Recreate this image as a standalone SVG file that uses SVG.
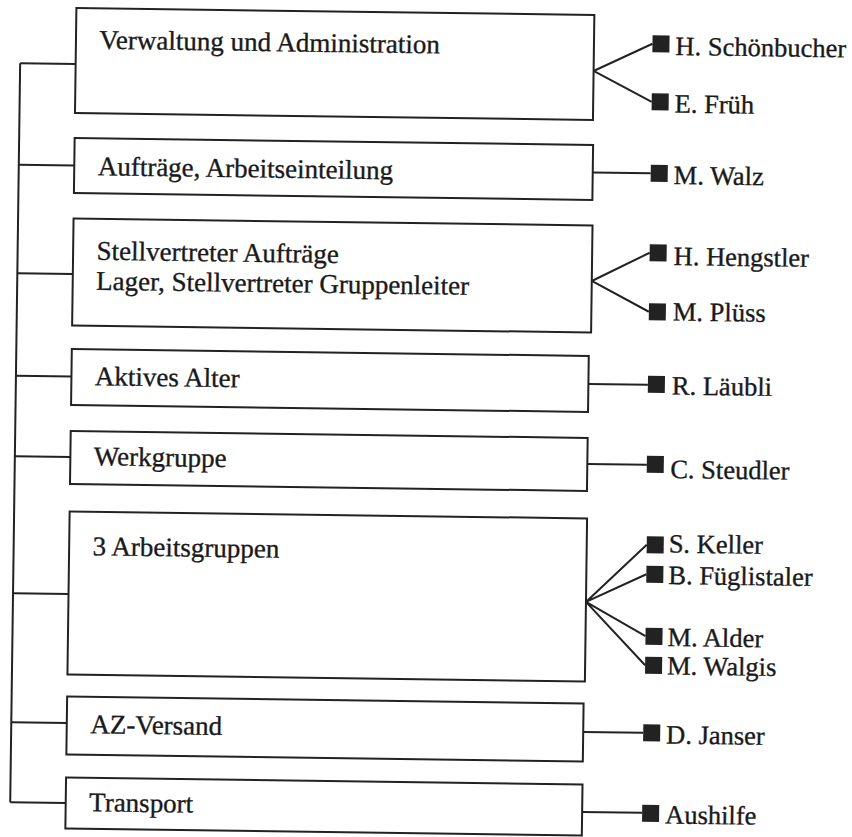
<svg xmlns="http://www.w3.org/2000/svg" width="852" height="837" viewBox="0 0 852 837">
<style>
.box{fill:#fff;stroke:#222;stroke-width:2}
.ln{fill:none;stroke:#222;stroke-width:2}
.sq{fill:#222}
.t{font-family:"Liberation Serif","Times New Roman",serif;font-size:27px;fill:#1a1a1a;stroke:#1a1a1a;stroke-width:0.35}
.p{font-size:26.5px}
</style>
<rect width="852" height="837" fill="#fff"/>
<g transform="rotate(0.77)">
<g id="connectors">
<path class="ln" d="M21 63V802"/>
<path class="ln" d="M21 63H76.5M21 164.5H76.5M21 273H76.5M21 375.5H76.5M21 456H76.5M21 593H76.5M21 722H76.5M21 802H76.5"/>
<path class="ln" d="M594.5 63L653 35M594.5 63L653 93"/>
<path class="ln" d="M595 164.5H653"/>
<path class="ln" d="M595.5 273L653 244M595.5 273L653 303"/>
<path class="ln" d="M593.5 376H653"/>
<path class="ln" d="M593.5 456H653"/>
<path class="ln" d="M594 594L654 536M594 594L654 565.5M594 594L654 627.5M594 594L654 656.5"/>
<path class="ln" d="M593 724H653"/>
<path class="ln" d="M593 804H653"/>
</g>
<g id="n-verwaltung"><rect class="box" x="76.5" y="7" width="518" height="105"/><text class="t" x="100" y="47.5">Verwaltung und Administration</text></g>
<g id="n-auftraege"><rect class="box" x="76.5" y="137" width="518.5" height="55"/><text class="t" x="100" y="174">Aufträge, Arbeitseinteilung</text></g>
<g id="n-stellvertreter"><rect class="box" x="76.5" y="217.5" width="519" height="107"/><text class="t" x="100" y="258.5">Stellvertreter Aufträge</text><text class="t" x="100" y="288.5">Lager, Stellvertreter Gruppenleiter</text></g>
<g id="n-aktives"><rect class="box" x="76.5" y="348" width="517" height="56"/><text class="t" x="100" y="384">Aktives Alter</text></g>
<g id="n-werkgruppe"><rect class="box" x="76.5" y="430" width="517" height="53"/><text class="t" x="100" y="464">Werkgruppe</text></g>
<g id="n-arbeitsgruppen"><rect class="box" x="76.5" y="510.5" width="517.5" height="163"/><text class="t" x="100" y="554">3 Arbeitsgruppen</text></g>
<g id="n-azversand"><rect class="box" x="76.5" y="695.5" width="516.5" height="58"/><text class="t" x="100" y="732">AZ-Versand</text></g>
<g id="n-transport"><rect class="box" x="76.5" y="776.5" width="516.5" height="51"/><text class="t" x="100" y="810">Transport</text></g>
<g id="p-schoenbucher"><rect class="sq" x="653" y="26.5" width="17" height="17"/><text class="t p" x="676" y="46">H. Schönbucher</text></g>
<g id="p-frueh"><rect class="sq" x="653" y="84.5" width="17" height="17"/><text class="t p" x="676" y="103.5">E. Früh</text></g>
<g id="p-walz"><rect class="sq" x="653" y="156" width="17" height="17"/><text class="t p" x="676" y="175">M. Walz</text></g>
<g id="p-hengstler"><rect class="sq" x="653" y="235.5" width="17" height="17"/><text class="t p" x="677" y="256">H. Hengstler</text></g>
<g id="p-pluess"><rect class="sq" x="653" y="294.5" width="17" height="17"/><text class="t p" x="677" y="311.5">M. Plüss</text></g>
<g id="p-laeubli"><rect class="sq" x="653" y="367" width="17" height="17"/><text class="t p" x="677" y="385.5">R. Läubli</text></g>
<g id="p-steudler"><rect class="sq" x="653" y="447" width="17" height="17"/><text class="t p" x="676.5" y="469">C. Steudler</text></g>
<g id="p-keller"><rect class="sq" x="654" y="527.5" width="17" height="17"/><text class="t p" x="676" y="543.5">S. Keller</text></g>
<g id="p-fueglistaler"><rect class="sq" x="654" y="557" width="17" height="17"/><text class="t p" x="676" y="575">B. Füglistaler</text></g>
<g id="p-alder"><rect class="sq" x="654" y="619" width="17" height="17"/><text class="t p" x="676" y="637">M. Alder</text></g>
<g id="p-walgis"><rect class="sq" x="654" y="648" width="17" height="17"/><text class="t p" x="676" y="665.5">M. Walgis</text></g>
<g id="p-janser"><rect class="sq" x="653" y="715.5" width="17" height="17"/><text class="t p" x="676" y="734.5">D. Janser</text></g>
<g id="p-aushilfe"><rect class="sq" x="653" y="796" width="17" height="17"/><text class="t p" x="676" y="814.5">Aushilfe</text></g>
</g>
</svg>
